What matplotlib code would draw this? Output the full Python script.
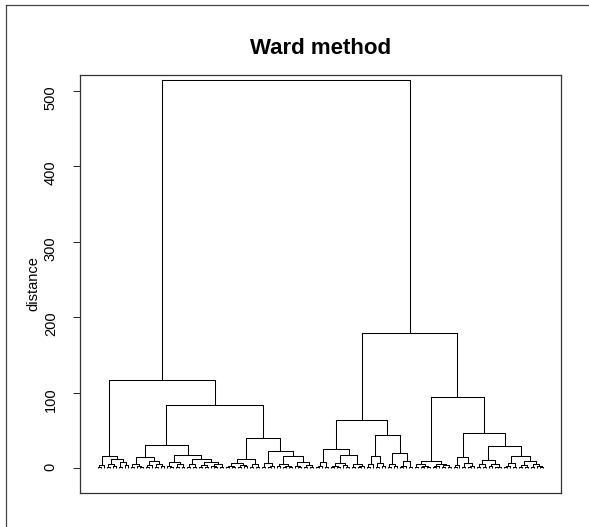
import matplotlib
matplotlib.use("Agg")
import matplotlib.pyplot as plt

plt.rcParams["font.family"] = ["Liberation Sans", "DejaVu Sans"]

# dendrogram: node = (height, left, right), 0 is a leaf
grp_A = (16, (4, (1.5, 0, 0), 0),
         (12, (6, (2, 0, 0), (3, 0, 0)), (8, (1, 0, 0), (3.5, 0, 0))))
grp_C1 = (15, (5, (2, 0, 0), (3, 0, (1, 0, 0))),
          (9, (4, (1.5, 0, 0), 0), (6, (2, 0, 0), (2.5, 0, 0))))
grp_C2 = (18, (8, (3, 0, (1, 0, 0)), (5, (2, 0, 0), (1.5, 0, 0))),
          (12, (5, (2, 0, 0), (1, 0, 0)),
           (8, (4, (1, 0, 0), (2, 0, 0)), (6, (3, 0, (1.5, 0, 0)), (2, 0, 0)))))
grp_D1 = (12, (7, (3, (1, 0, 0), (2, 0, 0)), (4, (1.5, 0, 0), (2.5, 0, 0))),
          (5, (2, 0, 0), (1, 0, 0)))
grp_D2 = (23, (7, (2, 0, 0), (3, (1, 0, 0), 0)),
          (16, (6, (2.5, 0, 0), (3, (1, 0, 0), (1.5, 0, 0))),
           (8, (3, 0, (1, 0, 0)), (4, (2, 0, 0), (1, 0, 0)))))
grp_E1 = (25, (8, (3, (1, 0, 0), 0), (2, 0, 0)),
          (17, (7, (3, (1, 0, 0), (2, 0, 0)), (4, 0, (1.5, 0, 0))),
           (5, (2, 0, 0), (2.5, (1, 0, 0), 0))))
grp_E2 = (44, (16, (5, (2, 0, 0), 0), (7, (1.5, 0, 0), (3, 0, 0))),
          (20, (6, (2, 0, 0), (3, 0, 0)), (9, (3, (1, 0, 0), 0), (2, 0, 0))))
grp_F1 = (9, (5, (2, 0, 0), (3, (1, 0, 0), (1.5, 0, 0))),
          (6, (2.5, (1, 0, 0), 0), (4, (2, 0, 0), (1, 0, 0))))
grp_F2a = (15, (4, (1, 0, 0), 0), (7, (2, 0, 0), (3, (1, 0, 0), 0)))
grp_F2b = (29, (11, (5, (2, 0, 0), (1, 0, 0)), (6, (3, 0, 0), (2, (1, 0, 0), 0))),
           (16, (7, (3, (1, 0, 0), 0), (2, 0, 0)),
            (9, (4, (1.5, 0, 0), (2, 0, 0)), (5, (2, 0, 0), (3, 0, (1, 0, 0))))))

tree = (514,
        (117, grp_A, (84, (30, grp_C1, grp_C2), (40, grp_D1, grp_D2))),
        (179, (64, grp_E1, grp_E2), (94, grp_F1, (47, grp_F2a, grp_F2b))))

yticks = [0, 100, 200, 300, 400, 500]

W, H = 589, 527
fig = plt.figure(figsize=(W / 100, H / 100), dpi=100)
ax = fig.add_axes([80 / W, 1 - 493 / H, (561 - 80) / W, (493 - 75) / H])

leaf_count = [0]


def draw(node):
    if node == 0:
        x = leaf_count[0]
        leaf_count[0] += 1
        return x, 0.0
    h, a, b = node
    xa, ha = draw(a)
    xb, hb = draw(b)
    ax.plot([xa, xa, xb, xb], [ha, h, h, hb], color="black", lw=0.75,
            solid_capstyle="butt")
    return (xa + xb) / 2, h


draw(tree)
n = leaf_count[0]
ax.set_xlim(-0.04 * (n - 1), (n - 1) * 1.04)
ax.set_ylim(-33, 521)
ax.set_xticks([])
ax.set_yticks(yticks)
ax.set_yticklabels([str(v) for v in yticks])
ax.tick_params(axis="y", labelrotation=90, length=5, width=0.7, pad=11,
               labelsize=10.5, color="#222222")
for s in ax.spines.values():
    s.set_color("#333333")
    s.set_linewidth(0.9)

fig.text(320.5 / W, 1 - 48 / H, "Ward method", ha="center", va="center",
         fontsize=16, fontweight="bold")
fig.text(33 / W, 1 - 284 / H, "distance", ha="center", va="center",
         rotation=90, fontsize=10.5)

# outer frame of the figure
fig.add_artist(plt.Line2D([6 / W, 6 / W], [0, 1 - 5 / H], color="#444444",
                          lw=0.9, transform=fig.transFigure))
fig.add_artist(plt.Line2D([6 / W, 1], [1 - 5 / H, 1 - 5 / H], color="#444444",
                          lw=0.9, transform=fig.transFigure))

fig.savefig("out.png", dpi=100)
